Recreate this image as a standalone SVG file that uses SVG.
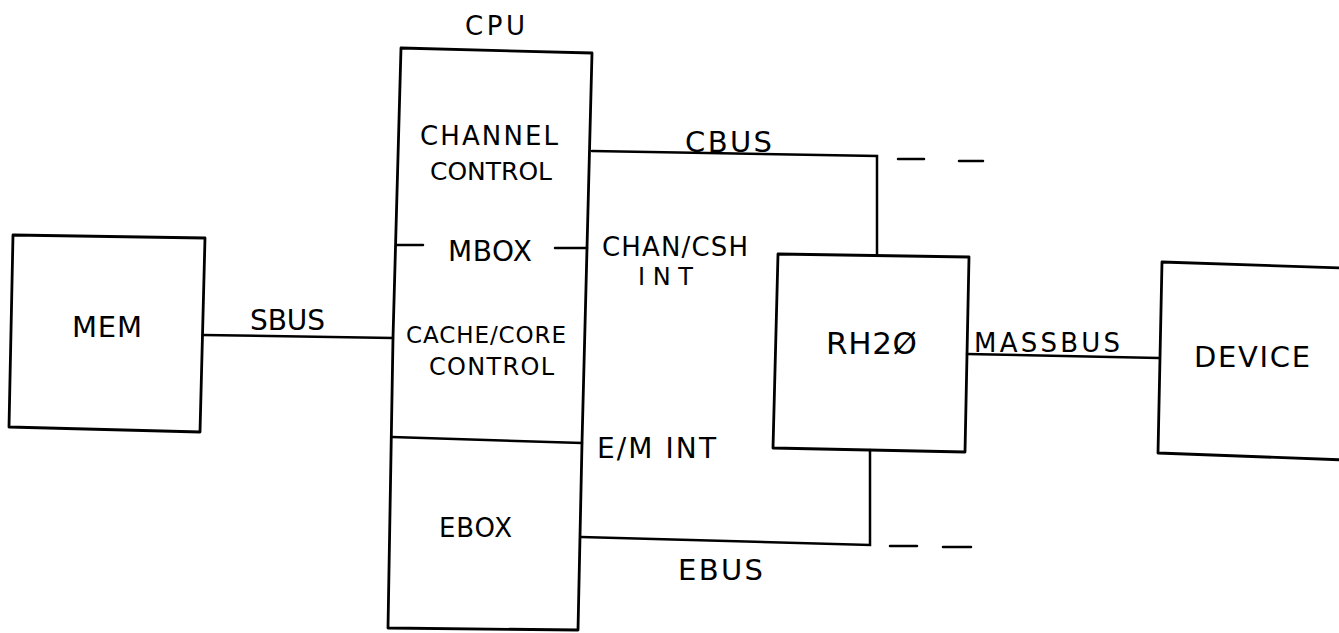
<svg xmlns="http://www.w3.org/2000/svg" width="1339" height="633" viewBox="0 0 1339 633">
<style>
.box{fill:none;stroke:#000;stroke-width:2.8;stroke-linejoin:round}
.ln{fill:none;stroke:#000;stroke-width:2.5;stroke-linecap:round}
.t{font-family:"DejaVu Sans","Liberation Sans",sans-serif;fill:#000}
</style>
<rect width="1339" height="633" fill="#fff"/>
<g id="mem">
<path class="box" d="M13 235 L205 238 L200 432 L9 427 Z"/>
<text class="t" x="72" y="337" font-size="29" textLength="70" lengthAdjust="spacing">MEM</text>
</g>
<g id="cpu">
<text class="t" x="465" y="35" font-size="26" textLength="60" lengthAdjust="spacing">CPU</text>
<path class="box" d="M401 48 L592 53 L587 248 L582 443 L578 630 L388 628 L393 338 Z"/>
<line class="ln" x1="392" y1="437" x2="582" y2="443"/>
<line class="ln" x1="397" y1="245" x2="423" y2="245"/>
<line class="ln" x1="555" y1="248" x2="587" y2="248"/>
<text class="t" x="420" y="145" font-size="26" textLength="138" lengthAdjust="spacing">CHANNEL</text>
<text class="t" x="430" y="180" font-size="25" textLength="122" lengthAdjust="spacing">CONTROL</text>
<text class="t" x="448" y="261" font-size="28" textLength="84" lengthAdjust="spacing">MBOX</text>
<text class="t" x="406" y="343" font-size="23" textLength="160" lengthAdjust="spacing">CACHE/CORE</text>
<text class="t" x="429" y="375" font-size="24" textLength="125" lengthAdjust="spacing">CONTROL</text>
<text class="t" x="439" y="537" font-size="26" textLength="73" lengthAdjust="spacing">EBOX</text>
</g>
<g id="rh20">
<path class="box" d="M778 254 L969 257 L965 452 L773 448 Z"/>
<text class="t" x="826" y="354" font-size="31" textLength="91" lengthAdjust="spacing">RH2Ø</text>
</g>
<g id="device">
<path class="box" d="M1345 268 L1162 262 L1158 453 L1345 460"/>
<text class="t" x="1194" y="367" font-size="29" textLength="116" lengthAdjust="spacing">DEVICE</text>
</g>
<g id="connectors">
<path class="ln" d="M203 335 L393 338"/>
<path class="ln" d="M592 151 L877 156 L877 255"/>
<path class="ln" d="M581 537 L870 545 L870 450"/>
<path class="ln" d="M967 354 L1159 358"/>
<line class="ln" x1="898" y1="159" x2="924" y2="159"/>
<line class="ln" x1="959" y1="161" x2="983" y2="161"/>
<line class="ln" x1="890" y1="546" x2="917" y2="546"/>
<line class="ln" x1="943" y1="547" x2="971" y2="547"/>
<text class="t" x="250" y="330" font-size="28" textLength="75" lengthAdjust="spacing">SBUS</text>
<text class="t" x="685" y="152" font-size="29" textLength="87" lengthAdjust="spacing">CBUS</text>
<text class="t" x="602" y="256" font-size="26" textLength="146" lengthAdjust="spacing">CHAN/CSH</text>
<text class="t" x="638" y="285" font-size="24" textLength="55" lengthAdjust="spacing">INT</text>
<text class="t" x="597" y="458" font-size="28" textLength="119" lengthAdjust="spacing">E/M INT</text>
<text class="t" x="678" y="580" font-size="29" textLength="85" lengthAdjust="spacing">EBUS</text>
<text class="t" x="974" y="352" font-size="26" textLength="146" lengthAdjust="spacing">MASSBUS</text>
</g>
</svg>
